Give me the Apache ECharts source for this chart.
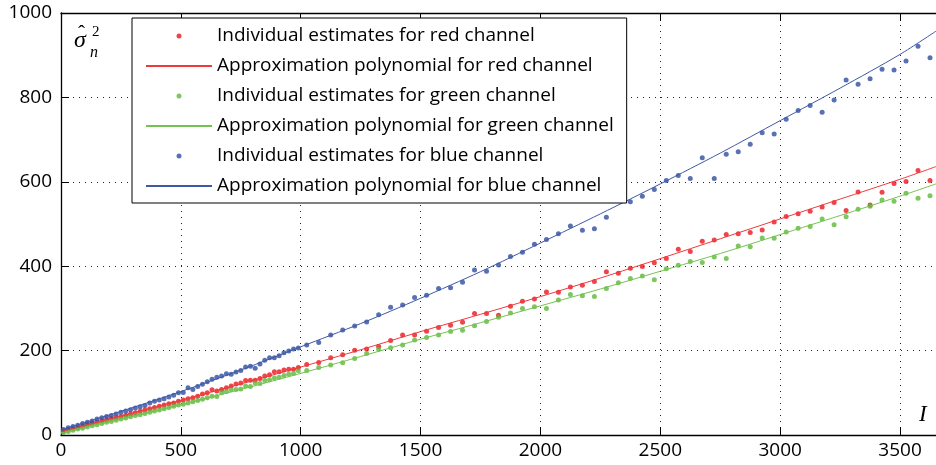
<!DOCTYPE html>
<html>
<head>
<meta charset="utf-8">
<script src="https://cdn.jsdelivr.net/npm/echarts@6/dist/echarts.min.js"></script>
<style>
  html, body { margin: 0; padding: 0; background: #fff; }
  #noiseChart { width: 936px; height: 465px; }
</style>
</head>
<body>
<div id="noiseChart"></div>
<script>
// sample positions of the individual estimates
const sampleX = [
  10, 30, 50, 70, 90, 110, 130, 150, 170, 190, 210, 230, 250, 270, 290, 310, 330, 350, 370, 390,
  410, 430, 450, 470, 490, 510, 530, 550, 570, 590, 610, 630, 650, 670, 690, 710, 730, 750, 770, 790,
  810, 830, 850, 870, 890, 910, 930, 950, 970, 990,
  1025, 1075, 1125, 1175, 1225, 1275, 1325, 1375, 1425, 1475, 1525, 1575, 1625, 1675, 1725, 1775,
  1825, 1875, 1925, 1975, 2025, 2075, 2125, 2175, 2225, 2275, 2325, 2375, 2425, 2475, 2525, 2575,
  2625, 2675, 2725, 2775, 2825, 2875, 2925, 2975, 3025, 3075, 3125, 3175, 3225, 3275, 3325, 3375,
  3425, 3475, 3525, 3575, 3625
];
const redPoints = [
  9, 12, 15, 18, 21, 24, 27, 30, 33, 36, 39, 41, 44, 47, 50, 53, 56, 59, 62, 65,
  68, 71, 74, 76, 80, 83, 86, 88, 92, 97, 100, 107, 104, 108, 112, 116, 121, 123, 129, 130,
  130, 134, 140, 143, 150, 150, 154, 156, 156, 160,
  167, 172, 183, 190, 201, 204, 210, 224, 237, 237, 246, 255, 260, 267, 288, 288,
  284, 305, 317, 322, 339, 338, 351, 355, 364, 387, 383, 395, 399, 408, 418, 440,
  435, 459, 462, 475, 477, 480, 486, 505, 518, 524, 530, 540, 551, 532, 576, 545,
  575, 596, 601, 627, 603
];
const greenPoints = [
  6, 8, 11, 14, 16, 19, 22, 24, 27, 30, 32, 35, 38, 40, 43, 46, 48, 51, 54, 57,
  59, 62, 65, 68, 71, 73, 76, 79, 82, 85, 88, 92, 91, 100, 103, 107, 108, 109, 116, 115,
  123, 122, 129, 131, 135, 137, 141, 144, 146, 152,
  153, 160, 166, 171, 181, 193, 203, 207, 213, 225, 231, 237, 245, 248, 259, 269,
  279, 289, 300, 304, 300, 320, 333, 330, 328, 347, 361, 371, 377, 368, 394, 402,
  411, 409, 422, 418, 448, 446, 467, 466, 481, 490, 494, 512, 498, 517, 535, 542,
  557, 554, 573, 561, 567
];
const bluePoints = [
  13, 17, 20, 23, 27, 30, 33, 38, 41, 44, 46, 50, 54, 57, 60, 64, 67, 70, 76, 80,
  83, 86, 90, 94, 100, 101, 112, 108, 115, 120, 126, 132, 137, 140, 145, 144, 149, 153, 161, 163,
  158, 168, 177, 183, 183, 188, 195, 199, 204, 206,
  213, 219, 237, 249, 258, 268, 285, 303, 308, 326, 331, 347, 349, 362, 391, 388,
  403, 423, 433, 452, 463, 477, 495, 485, 489, 516, 565, 553, 566, 582, 603, 615,
  608, 657, 608, 665, 671, 689, 716, 713, 748, 769, 781, 765, 794, 841, 831, 844,
  867, 865, 886, 921, 894
];

// approximation polynomials
const curveX = [0, 250, 500, 750, 1000, 1250, 1500, 1750, 2000, 2250, 2500, 2750, 3000, 3250, 3500, 3650];
const redCurve = [8, 45, 82, 121, 161, 202, 245, 286, 328, 372, 418, 465, 512, 559, 606, 636];
const greenCurve = [5, 38, 72, 108, 146, 186, 227, 266, 306, 346, 388, 430, 475, 520, 566, 595];
const blueCurve = [12, 56, 103, 154, 209, 264, 324, 387, 455, 524, 595, 668, 745, 822, 902, 957];

const legendNames = [
  "Individual estimates for red channel",
  "Approximation polynomial for red channel",
  "Individual estimates for green channel",
  "Approximation polynomial for green channel",
  "Individual estimates for blue channel",
  "Approximation polynomial for blue channel"
];

const colors = {
  red: "#e8161e",
  redLine: "#ee3a3a",
  green: "#5db83a",
  greenLine: "#74c250",
  blue: "#2f4c9f",
  blueLine: "#3f58a8"
};

function pairs(xs, ys) {
  return xs.map((x, i) => [x, ys[i]]);
}

const tickFont = {
  color: "#000",
  fontSize: 19,
  fontFamily: "Open Sans",
  formatter: function (v) { return String(v); }
};

// hide the little dot the line series puts in its legend icon
const noDot = { color: "rgba(0,0,0,0)", borderWidth: 0 };

let myChart = echarts.init(document.getElementById("noiseChart"));
let options = {
  animation: false,
  grid: { left: 61, right: 0, top: 13, bottom: 30 },
  legend: {
    orient: "vertical",
    left: 132,
    top: 18,
    padding: [8, 13, 7, 13],
    itemGap: 10,
    itemWidth: 66,
    itemHeight: 5,
    backgroundColor: "#fff",
    borderColor: "#000",
    borderWidth: 1,
    borderRadius: 0,
    textStyle: { color: "#000", fontSize: 19, fontFamily: "Open Sans", lineHeight: 20 },
    data: [
      { name: legendNames[0], icon: "circle" },
      { name: legendNames[1], itemStyle: noDot },
      { name: legendNames[2], icon: "circle" },
      { name: legendNames[3], itemStyle: noDot },
      { name: legendNames[4], icon: "circle" },
      { name: legendNames[5], itemStyle: noDot }
    ]
  },
  xAxis: [
    {
      type: "value",
      min: 0,
      max: 3650,
      interval: 500,
      axisLine: { lineStyle: { color: "#000", width: 1.3 } },
      axisTick: { inside: true, length: 8, lineStyle: { color: "#000" } },
      axisLabel: Object.assign({ margin: 6, showMaxLabel: false }, tickFont),
      splitLine: { show: true, lineStyle: { color: "#222", width: 1, type: [1, 5] } }
    },
    {
      type: "value",
      position: "top",
      min: 0,
      max: 3650,
      interval: 500,
      axisLine: { show: true, lineStyle: { color: "#000", width: 1.3 } },
      axisTick: { show: true, inside: true, length: 8, lineStyle: { color: "#000" } },
      axisLabel: { show: false },
      splitLine: { show: false }
    }
  ],
  yAxis: {
    type: "value",
    min: 0,
    max: 1000,
    interval: 200,
    axisLine: { show: true, lineStyle: { color: "#000", width: 1.3 } },
    axisTick: { show: true, inside: true, length: 8, lineStyle: { color: "#000" } },
    axisLabel: Object.assign({ margin: 9 }, tickFont),
    splitLine: { show: true, lineStyle: { color: "#222", width: 1, type: [1, 5] } }
  },
  graphic: [
    { type: "text", left: 74, top: 29, style: { text: "σ", font: "italic 24px 'Liberation Serif'", fill: "#000" } },
    { type: "text", left: 78, top: 24, style: { text: "\u02C6", font: "21px 'Liberation Serif'", fill: "#000" } },
    { type: "text", left: 92, top: 25, style: { text: "2", font: "15px 'Liberation Serif'", fill: "#000" } },
    { type: "text", left: 90, top: 45, style: { text: "n", font: "italic 16px 'Liberation Serif'", fill: "#000" } },
    { type: "text", left: 919, top: 403, style: { text: "I", font: "italic 23px 'Liberation Serif'", fill: "#000" } }
  ],
  series: [
    {
      name: legendNames[0],
      type: "scatter",
      symbolSize: 5,
      itemStyle: { color: colors.red },
      data: pairs(sampleX, redPoints)
    },
    {
      name: legendNames[1],
      type: "line",
      smooth: 0.3,
      symbol: "none",
      lineStyle: { color: colors.redLine, width: 1 },
      itemStyle: { color: colors.redLine },
      data: pairs(curveX, redCurve)
    },
    {
      name: legendNames[2],
      type: "scatter",
      symbolSize: 5,
      itemStyle: { color: colors.green },
      data: pairs(sampleX, greenPoints)
    },
    {
      name: legendNames[3],
      type: "line",
      smooth: 0.3,
      symbol: "none",
      lineStyle: { color: colors.greenLine, width: 1 },
      itemStyle: { color: colors.greenLine },
      data: pairs(curveX, greenCurve)
    },
    {
      name: legendNames[4],
      type: "scatter",
      symbolSize: 5,
      itemStyle: { color: colors.blue },
      data: pairs(sampleX, bluePoints)
    },
    {
      name: legendNames[5],
      type: "line",
      smooth: 0.3,
      symbol: "none",
      lineStyle: { color: colors.blueLine, width: 1 },
      itemStyle: { color: colors.blueLine },
      data: pairs(curveX, blueCurve)
    }
  ]
};
myChart.setOption(options);
</script>
</body>
</html>
